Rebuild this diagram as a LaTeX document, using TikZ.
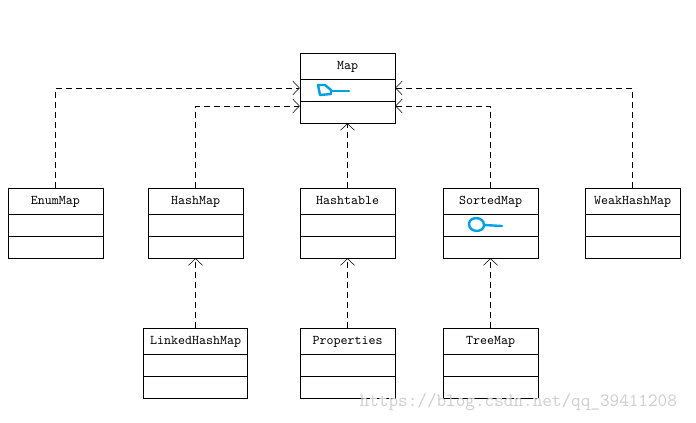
\documentclass[tikz,border=0pt]{standalone}
\definecolor{inkblue}{RGB}{0, 160, 230}
\definecolor{markgray}{RGB}{205, 205, 205}
\usetikzlibrary{arrows.meta, positioning}

\begin{document}
\begin{tikzpicture}[
  x=0.75pt, y=-0.75pt,
  cls/.style={draw, minimum width=71.25pt, inner xsep=0pt, inner ysep=0pt,
    text height=12pt, text depth=40.5pt, font=\ttfamily\fontsize{10}{11}\selectfont,
    path picture={
      \draw ([yshift=-19.5pt]path picture bounding box.north west) -- ([yshift=-19.5pt]path picture bounding box.north east);
      \draw ([yshift=-36pt]path picture bounding box.north west) -- ([yshift=-36pt]path picture bounding box.north east);
    }},
  dep/.style={draw, dash pattern=on 4.5pt off 3pt, -{Straight Barb[length=5pt, width=10.5pt]}},
  scrib/.style={draw=inkblue, line width=1.8pt, line join=round, line cap=round}
]
  \useasboundingbox (0,0) rectangle (696,422);

  % classes
  \node[cls] (Map) at (347.5,88) {Map};
  \node[cls] (EnumMap) at (55.5,223) {EnumMap};
  \node[cls] (HashMap) at (195.5,223) {HashMap};
  \node[cls] (Hashtable) at (347.5,223) {Hashtable};
  \node[cls] (SortedMap) at (490.5,223) {SortedMap};
  \node[cls] (WeakHashMap) at (632.5,223) {WeakHashMap};
  \node[cls, minimum width=78pt] (LinkedHashMap) at (195.5,363) {LinkedHashMap};
  \node[cls] (Properties) at (347.5,363) {Properties};
  \node[cls] (TreeMap) at (490.5,363) {TreeMap};

  % dependencies
  \draw[dep] (EnumMap.north) |- (Map.west);
  \draw[dep] (HashMap.north) |- ([yshift=-13.5pt]Map.west);
  \draw[dep] (Hashtable.north) -- (Map.south);
  \draw[dep] (SortedMap.north) |- ([yshift=-13.5pt]Map.east);
  \draw[dep] (WeakHashMap.north) |- (Map.east);
  \draw[dep] (LinkedHashMap.north) -- (HashMap.south);
  \draw[dep] (Properties.north) -- (Hashtable.south);
  \draw[dep] (TreeMap.north) -- (SortedMap.south);

  % hand marks
  \draw[scrib] (318,85) -- (325,85) -- (331,90) -- (331,94) -- (320,95) -- cycle;
  \draw[scrib] (331,91) -- (349,91);
  \draw[scrib] (484,225) .. controls (484,216) and (469,216) .. (469,224)
    .. controls (469,233) and (484,233) .. (484,225) -- (502,226);

  % watermark
  \node[text=markgray, font=\ttfamily\fontsize{14}{16}\selectfont, anchor=west] (mark) at (355,402) {https://blog.csdn.net/qq\_39411208};
\end{tikzpicture}
\end{document}
